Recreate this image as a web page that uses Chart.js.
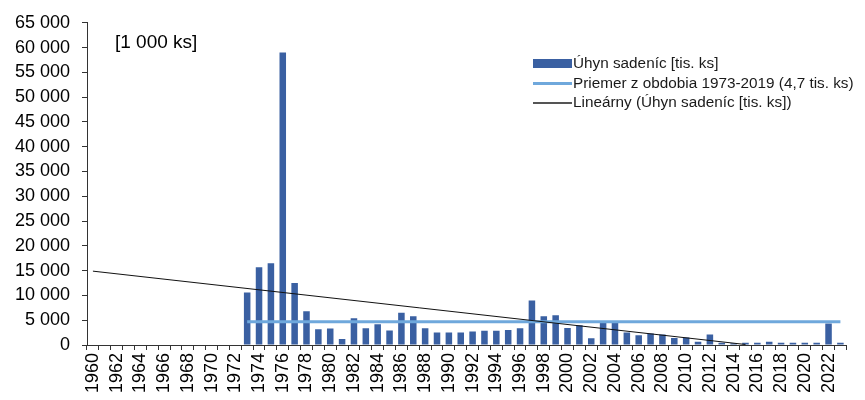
<!DOCTYPE html>
<html>
<head>
<meta charset="utf-8">
<script src="https://cdn.jsdelivr.net/npm/chart.js@4"></script>
<style>
body { margin: 0; background: #fff; overflow: hidden; }
#wrap { position: relative; width: 865px; height: 400px; }
.unit { position: absolute; left: 115px; top: 31px; font: 19px "Liberation Sans", Arial, sans-serif; color: #000; }
.legend { position: absolute; left: 533px; top: 53px; font: 15.3px "Liberation Sans", Arial, sans-serif; color: #1a1a1a; }
.legend div { height: 19.5px; line-height: 19.5px; white-space: nowrap; }
.legend span.sw { display: inline-block; width: 39px; vertical-align: middle; margin-right: 1px; }
</style>
</head>
<body>
<div id="wrap">
<canvas id="chart" width="865" height="400"></canvas>
<div class="unit">[1 000 ks]</div>
<div class="legend">
  <div><span class="sw" style="height:9px;background:#3a60a2"></span>Úhyn sadeníc [tis. ks]</div>
  <div><span class="sw" style="height:3px;background:#6fa8dc"></span>Priemer z obdobia 1973-2019 (4,7 tis. ks)</div>
  <div><span class="sw" style="height:1.5px;background:#555"></span>Lineárny (Úhyn sadeníc [tis. ks])</div>
</div>
</div>
<script>
// years on the x axis
const years = [
  "1960","1961","1962","1963","1964","1965","1966","1967","1968","1969",
  "1970","1971","1972","1973","1974","1975","1976","1977","1978","1979",
  "1980","1981","1982","1983","1984","1985","1986","1987","1988","1989",
  "1990","1991","1992","1993","1994","1995","1996","1997","1998","1999",
  "2000","2001","2002","2003","2004","2005","2006","2007","2008","2009",
  "2010","2011","2012","2013","2014","2015","2016","2017","2018","2019",
  "2020","2021","2022","2023"
];

// Úhyn sadeníc, 1960-1972 no data
const losses = [
  null,null,null,null,null,null,null,null,null,null,
  null,null,null,10600,15700,16500,59000,12500,6800,3200,
  3350,1200,5400,3400,4200,2900,6500,5800,3400,2500,
  2500,2500,2700,2850,2850,3050,3400,9000,5800,6000,
  3450,4000,1350,4500,4500,2500,1950,2300,2100,1400,
  1500,650,2100,450,350,450,450,650,450,450,
  450,450,4350,450
];

// average 1973-2019 (start / end of the line)
const meanLine = [{x: "1973", y: 4700}, {x: "2023", y: 4700}];

// linear trend (start / end)
const trendLine = [{x: "1960", y: 14900}, {x: "2015", y: 100}];

const yTicks = [0,5000,10000,15000,20000,25000,30000,35000,40000,45000,50000,55000,60000,65000];

const fontFamily = '"Liberation Sans", Arial, sans-serif';

function fmt(v) {
    return String(v).replace(/\B(?=(\d{3})+(?!\d))/g, " ");
}

new Chart(document.getElementById("chart"), {

    type: "bar",

    data: {
        labels: years,
        datasets: [
            {
                label: "Úhyn sadeníc [tis. ks]",
                data: losses,
                backgroundColor: "#3a60a2",
                barPercentage: 0.55,
                categoryPercentage: 1,
                order: 3
            },
            {
                type: "line",
                label: "Priemer z obdobia 1973-2019 (4,7 tis. ks)",
                data: meanLine,
                borderColor: "#6fa8dc",
                borderWidth: 3,
                pointRadius: 0,
                spanGaps: true,
                order: 2
            },
            {
                type: "line",
                label: "Lineárny (Úhyn sadeníc [tis. ks])",
                data: trendLine,
                borderColor: "#111",
                borderWidth: 1,
                pointRadius: 0,
                spanGaps: true,
                order: 1
            }
        ]
    },

    options: {
        responsive: false,
        animation: false,
        layout: {
            padding: { top: 20, right: 0, left: 0, bottom: 0 }
        },
        plugins: {
            legend: { display: false },
            tooltip: { enabled: false }
        },
        scales: {
            x: {
                offset: true,
                grid: {
                    offset: true,
                    drawOnChartArea: false,
                    drawTicks: true,
                    tickLength: 5,
                    color: "#333"
                },
                border: { color: "#333", width: 1 },
                ticks: {
                    autoSkip: false,
                    maxRotation: 90,
                    minRotation: 90,
                    padding: 3,
                    color: "#000",
                    font: { family: fontFamily, size: 18 },
                    callback: function(value, index) {
                        return index % 2 === 0 ? years[index] : "";
                    }
                },
                afterFit: function(scale) { scale.height = 55; }
            },
            y: {
                min: 0,
                max: 65000,
                grid: {
                    drawOnChartArea: false,
                    drawTicks: true,
                    tickLength: 5,
                    color: "#333"
                },
                border: { color: "#333", width: 1 },
                afterBuildTicks: function(scale) {
                    scale.ticks = yTicks.map(v => ({ value: v }));
                },
                ticks: {
                    padding: 12,
                    color: "#000",
                    font: { family: fontFamily, size: 18 },
                    callback: function(value) { return fmt(value); }
                },
                afterFit: function(scale) { scale.width = 87; }
            }
        }
    }

});
</script>
</body>
</html>
